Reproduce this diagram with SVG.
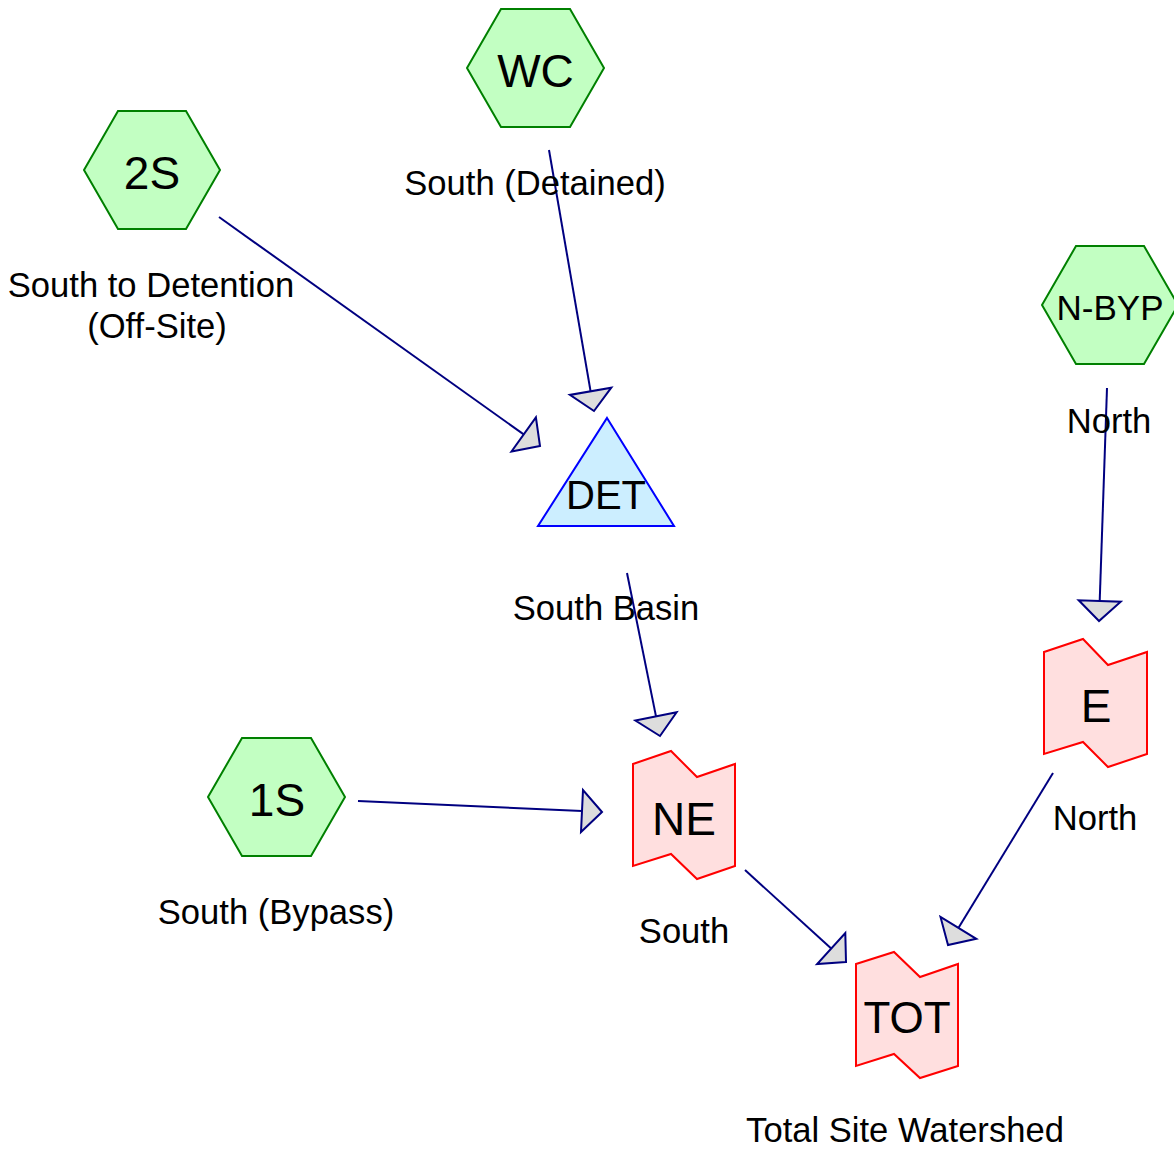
<svg xmlns="http://www.w3.org/2000/svg" width="1174" height="1149" viewBox="0 0 1174 1149">
<style>
text{font-family:"Liberation Sans",Arial,sans-serif;fill:#000;text-anchor:middle}
.hex{fill:#c2ffc2;stroke:#008000;stroke-width:2}
.map{fill:#ffdfdf;stroke:#ff0000;stroke-width:2}
.pond{fill:#cceeff;stroke:#0000ff;stroke-width:2}
.lbl{font-size:34.6px}
.edge line{stroke:#000080;stroke-width:2}
.edge polygon{fill:#dddddd;stroke:#000080;stroke-width:2;stroke-linejoin:miter}
</style>
<rect width="1174" height="1149" fill="#fff"/>
<g id="connectors" class="edge">
<line x1="219" y1="217" x2="523.7" y2="434.4"/>
<polygon points="540,446 511.5,451.5 535.9,417.3"/>
<line x1="549" y1="150" x2="590.6" y2="391.3"/>
<polygon points="594,411 569.9,394.9 611.3,387.7"/>
<line x1="1107" y1="388" x2="1099.7" y2="601"/>
<polygon points="1099,621 1078.7,600.3 1120.7,601.7"/>
<line x1="627" y1="573" x2="656" y2="716.4"/>
<polygon points="660,736 635.4,720.6 676.6,712.2"/>
<line x1="358" y1="801" x2="582" y2="811.1"/>
<polygon points="602,812 581,832 583,790"/>
<line x1="745" y1="870" x2="831.2" y2="948.5"/>
<polygon points="846,962 817.1,964 845.3,933"/>
<line x1="1053" y1="773" x2="958.4" y2="927.9"/>
<polygon points="948,945 940.5,917 976.3,938.8"/>
</g>
<g id="node-WC">
<polygon class="hex" points="467,68 501,9 570,9 604,68 570,127 501,127"/>
<text x="535.5" y="87" font-size="46">WC</text>
<text class="lbl" x="535" y="195">South (Detained)</text>
</g>
<g id="node-2S">
<polygon class="hex" points="84,170 118,111 186,111 220,170 186,229 118,229"/>
<text x="152" y="189" font-size="46">2S</text>
<text class="lbl" x="151" y="297">South to Detention</text>
<text class="lbl" x="157" y="338">(Off-Site)</text>
</g>
<g id="node-N-BYP">
<polygon class="hex" points="1042,305 1076,246 1144,246 1178,305 1144,364 1076,364"/>
<text x="1110" y="320" font-size="35">N-BYP</text>
<text class="lbl" x="1109" y="433">North</text>
</g>
<g id="node-DET">
<polygon class="pond" points="607,418 674,526 538,526"/>
<text x="606" y="509" font-size="40">DET</text>
<text class="lbl" x="606" y="620">South Basin</text>
</g>
<g id="node-1S">
<polygon class="hex" points="208,797 242,738 311,738 345,797 311,856 242,856"/>
<text x="277" y="816" font-size="46">1S</text>
<text class="lbl" x="276" y="924">South (Bypass)</text>
</g>
<g id="node-E">
<polygon class="map" points="1044,652 1083,639 1108,665 1147,652 1147,754 1108,767 1083,742 1044,754"/>
<text x="1096" y="722" font-size="46">E</text>
<text class="lbl" x="1095" y="830">North</text>
</g>
<g id="node-NE">
<polygon class="map" points="633,764 671,751 697,777 735,764 735,866 697,879 671,854 633,866"/>
<text x="684" y="835" font-size="46">NE</text>
<text class="lbl" x="684" y="943">South</text>
</g>
<g id="node-TOT">
<polygon class="map" points="856,964 894,952 920,977 958,964 958,1066 920,1078 894,1054 856,1066"/>
<text x="907" y="1033" font-size="44">TOT</text>
<text class="lbl" x="905" y="1142">Total Site Watershed</text>
</g>
</svg>
